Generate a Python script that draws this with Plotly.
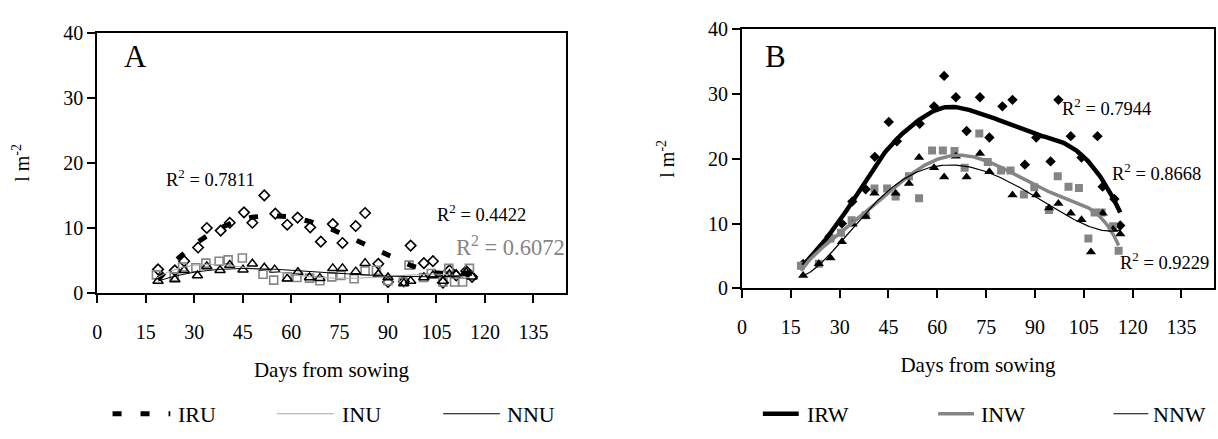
import numpy as np
import plotly.graph_objects as go

# ---------------- Panel A: unweeded treatments ----------------
iru_day = [18.8, 24.0, 26.9, 31.2, 33.9, 38.2, 41.0, 45.4, 48.0, 51.7, 55.1, 58.8, 62.0, 65.9, 69.2,
           72.9, 75.9, 80.0, 82.9, 87.0, 90.0, 94.9, 97.0, 101.1, 103.9, 107.0, 109.0, 111.1, 114.2, 116.0]
iru_val = [3.65, 3.5, 4.9, 7.0, 10.0, 9.6, 10.8, 12.4, 10.8, 15.0, 12.2, 10.5, 11.6, 10.1, 7.9,
           10.6, 7.7, 10.3, 12.3, 4.5, 1.7, 1.8, 7.3, 4.6, 4.9, 1.6, 3.5, 2.7, 3.4, 2.5]

inu_day = [18.3, 23.8, 26.4, 30.5, 33.6, 37.7, 40.5, 44.9, 51.3, 54.6, 58.8, 61.8, 65.7, 68.9, 72.6,
           75.4, 79.5, 82.9, 86.4, 90.0, 94.7, 96.5, 101.0, 103.4, 107.0, 108.8, 110.6, 113.1, 115.2]
inu_val = [2.8, 2.5, 4.0, 3.9, 4.6, 4.9, 5.1, 5.4, 2.9, 2.0, 2.5, 2.4, 2.3, 1.9, 2.5,
           2.7, 2.2, 3.4, 3.5, 1.9, 1.7, 4.3, 2.4, 3.0, 1.7, 3.8, 1.7, 1.7, 3.8]

nnu_day = [18.8, 24.0, 26.9, 31.0, 33.9, 38.0, 41.0, 45.1, 48.0, 51.7, 54.9, 58.8, 62.1, 65.7, 68.9,
           72.9, 75.9, 80.0, 82.9, 87.0, 90.0, 94.9, 97.0, 101.1, 103.9, 107.0, 109.0, 111.1, 114.2, 116.0]
nnu_val = [1.85, 2.1, 3.5, 2.7, 4.1, 3.5, 4.3, 3.6, 4.5, 3.9, 3.6, 2.2, 3.2, 2.4, 2.3,
           3.8, 3.8, 3.3, 4.6, 2.9, 2.4, 1.5, 1.85, 2.4, 2.7, 1.85, 2.9, 2.9, 3.2, 2.5]

# ---------------- Panel B: weeded treatments ----------------
irw_day = [18.8, 26.9, 30.7, 33.9, 38.0, 40.8, 45.1, 47.6, 54.6, 59.0, 62.1, 65.7, 69.0, 73.1,
           76.0, 80.0, 83.1, 86.9, 90.4, 94.8, 97.2, 101.0, 104.3, 109.2, 110.8, 114.4, 116.2]
irw_val = [3.76, 8.0, 10.0, 13.4, 15.3, 20.3, 25.7, 22.7, 25.4, 28.1, 32.8, 29.5, 24.3, 29.5,
           23.3, 28.1, 29.1, 19.1, 23.3, 19.6, 29.1, 23.5, 20.2, 23.5, 15.7, 13.8, 9.7]

inw_day = [18.1, 23.6, 27.2, 30.4, 33.7, 38.0, 40.7, 44.6, 47.2, 51.3, 54.4, 58.4, 61.7, 65.3, 68.4,
           72.9, 75.5, 79.6, 82.5, 86.6, 89.8, 94.3, 97.0, 100.3, 103.5, 106.4, 108.3, 110.5, 114.0, 115.7]
inw_val = [3.5, 3.8, 7.7, 8.6, 10.5, 11.3, 15.4, 15.4, 14.2, 17.3, 13.9, 21.3, 21.3, 21.2, 18.6,
           23.9, 19.5, 18.2, 18.2, 14.5, 15.6, 12.1, 17.3, 15.7, 15.5, 7.7, 11.7, 11.7, 9.6, 5.8]

nnw_day = [18.8, 23.6, 27.2, 30.7, 34.0, 38.0, 40.7, 47.2, 51.3, 54.4, 59.0, 62.1, 65.7, 69.0, 73.1,
           76.0, 83.1, 90.4, 94.3, 97.2, 101.0, 104.3, 107.2, 110.8, 114.0, 116.2]
nnw_val = [2.0, 3.8, 4.7, 7.2, 9.9, 11.1, 14.7, 14.7, 16.2, 20.2, 18.6, 17.2, 20.4, 17.2, 20.8,
           18.0, 14.4, 14.4, 12.4, 13.1, 11.6, 10.6, 5.6, 11.6, 9.1, 8.4]

r2_labels_a = ["0.7811", "0.4422", "0.6072"]
r2_labels_b = ["0.7944", "0.8668", "0.9229"]
legend_a = ["IRU", "INU", "NNU"]
legend_b = ["IRW", "INW", "NNW"]

SERIF = "Liberation Serif"
GREY = "#858585"
LIGHT = "#a8a8a8"
W, H = 1218, 439


def poly_trend(days, vals, degree):
    """Polynomial trendline evaluated on a fine grid spanning the observations."""
    x = np.asarray(days, float)
    y = np.asarray(vals, float)
    c = np.polyfit(x, y, degree)
    xs = np.linspace(x.min(), x.max(), 200)
    return xs, np.polyval(c, xs)


def smooth_trend(days, vals, bandwidth):
    """Gaussian-weighted local linear regression across the observed days."""
    x = np.asarray(days, float)
    y = np.asarray(vals, float)
    xs = np.linspace(x.min(), x.max(), 200)
    ys = []
    for x0 in xs:
        w = np.exp(-0.5 * ((x - x0) / bandwidth) ** 2)
        c = np.polyfit(x - x0, y, 1, w=np.sqrt(w))
        ys.append(c[-1])
    return xs, np.array(ys)


def px(x):
    return x / W


def py(y):
    return (H - y) / H


fig = go.Figure()

# ---- panel A markers ----
fig.add_trace(go.Scatter(x=iru_day, y=iru_val, mode="markers", xaxis="x", yaxis="y",
                         marker=dict(symbol="diamond-open", size=8, color="black", line=dict(width=1.6))))
fig.add_trace(go.Scatter(x=inu_day, y=inu_val, mode="markers", xaxis="x", yaxis="y",
                         marker=dict(symbol="square-open", size=8, color=GREY, line=dict(width=1.6))))
fig.add_trace(go.Scatter(x=nnu_day, y=nnu_val, mode="markers", xaxis="x", yaxis="y",
                         marker=dict(symbol="triangle-up-open", size=9, color="black", line=dict(width=1.5))))

# ---- panel A trendlines ----
IRU_LINE = dict(color="black", width=5, dash="9px,19px")
INU_LINE = dict(color=LIGHT, width=1)
NNU_LINE = dict(color="black", width=1)
xs, ys = poly_trend(iru_day, iru_val, 4)
fig.add_trace(go.Scatter(x=xs, y=ys, mode="lines", xaxis="x", yaxis="y", line=IRU_LINE))
xs, ys = poly_trend(inu_day, inu_val, 4)
fig.add_trace(go.Scatter(x=xs, y=ys, mode="lines", xaxis="x", yaxis="y", line=INU_LINE))
xs, ys = poly_trend(nnu_day, nnu_val, 4)
fig.add_trace(go.Scatter(x=xs, y=ys, mode="lines", xaxis="x", yaxis="y", line=NNU_LINE))

# ---- panel B markers ----
fig.add_trace(go.Scatter(x=irw_day, y=irw_val, mode="markers", xaxis="x2", yaxis="y2",
                         marker=dict(symbol="diamond", size=8, color="black")))
fig.add_trace(go.Scatter(x=inw_day, y=inw_val, mode="markers", xaxis="x2", yaxis="y2",
                         marker=dict(symbol="square", size=8, color=GREY)))
fig.add_trace(go.Scatter(x=nnw_day, y=nnw_val, mode="markers", xaxis="x2", yaxis="y2",
                         marker=dict(symbol="triangle-up", size=9, color="black")))

# ---- panel B trendlines ----
IRW_LINE = dict(color="black", width=4.5)
INW_LINE = dict(color=GREY, width=3.5)
NNW_LINE = dict(color="black", width=1.2)
xs, ys = smooth_trend(irw_day, irw_val, 8)
fig.add_trace(go.Scatter(x=xs, y=ys, mode="lines", xaxis="x2", yaxis="y2", line=IRW_LINE))
xs, ys = poly_trend(inw_day, inw_val, 6)
fig.add_trace(go.Scatter(x=xs, y=ys, mode="lines", xaxis="x2", yaxis="y2", line=INW_LINE))
xs, ys = poly_trend(nnw_day, nnw_val, 6)
fig.add_trace(go.Scatter(x=xs, y=ys, mode="lines", xaxis="x2", yaxis="y2", line=NNW_LINE))

axis_common = dict(
    showline=True, linecolor="black", linewidth=2, mirror=True,
    ticks="outside", ticklen=8, tickwidth=1.5, tickcolor="black",
    showgrid=False, zeroline=False,
    tickfont=dict(family=SERIF, size=20, color="black"),
)
xcommon = dict(axis_common, range=[0, 145], tick0=0, dtick=15, ticklabelstandoff=12,
               title=dict(text="Days from sowing", font=dict(family=SERIF, size=21, color="black"), standoff=20))
ycommon = dict(axis_common, range=[0, 40], tick0=0, dtick=10,
               title=dict(text="l m<sup>-2</sup>", font=dict(family=SERIF, size=20, color="black"), standoff=28))

fig.update_layout(
    width=W, height=H,
    margin=dict(l=0, r=0, t=0, b=0),
    paper_bgcolor="white", plot_bgcolor="white",
    showlegend=False,
    xaxis=dict(xcommon, domain=[px(92.7), px(563)], anchor="y"),
    yaxis=dict(ycommon, domain=[py(297), py(22.7)], anchor="x"),
    xaxis2=dict(xcommon, domain=[px(740), px(1214)], anchor="y2"),
    yaxis2=dict(ycommon, domain=[py(292), py(19.2)], anchor="x2"),
)

ann = []
shapes = []
# panel letters
ann.append(dict(text="A", x=7.5, y=36.3, xref="x", yref="y", showarrow=False, xanchor="left",
                font=dict(family=SERIF, size=31, color="black")))
ann.append(dict(text="B", x=6.5, y=35.8, xref="x2", yref="y2", showarrow=False, xanchor="left",
                font=dict(family=SERIF, size=31, color="black")))


def r2(label, x, y, xr, yr, size, color):
    ann.append(dict(text="R<sup>2</sup> = " + label, x=x, y=y, xref=xr, yref=yr, showarrow=False,
                    xanchor="left", yanchor="middle", font=dict(family=SERIF, size=size, color=color)))


r2(r2_labels_a[0], 20.7, 17.6, "x", "y", 18.5, "black")
r2(r2_labels_a[1], 104.4, 12.3, "x", "y", 18.5, "black")
r2(r2_labels_a[2], 110.4, 7.2, "x", "y", 22.5, GREY)
r2(r2_labels_b[0], 97.8, 28.0, "x2", "y2", 18.5, "black")
r2(r2_labels_b[1], 113.0, 18.0, "x2", "y2", 18.5, "black")
r2(r2_labels_b[2], 115.4, 4.3, "x2", "y2", 18.5, "black")

# legend rows drawn under each panel: line sample + label
legend_rows = [
    (legend_a[0], 108, 166, IRU_LINE, 172),
    (legend_a[1], 273, 330, INU_LINE, 336),
    (legend_a[2], 440, 497, NNU_LINE, 502),
    (legend_b[0], 761, 797, IRW_LINE, 803),
    (legend_b[1], 937, 973, INW_LINE, 978),
    (legend_b[2], 1113, 1148, NNW_LINE, 1151),
]
LEG_Y = 424
for name, x0, x1, style, tx in legend_rows:
    shapes.append(dict(type="line", xref="paper", yref="paper", x0=px(x0), x1=px(x1),
                       y0=py(LEG_Y), y1=py(LEG_Y), line=style))
    ann.append(dict(text=name, x=px(tx), y=py(LEG_Y + 1), xref="paper", yref="paper", showarrow=False,
                    xanchor="left", yanchor="middle", font=dict(family=SERIF, size=22, color="black")))

fig.update_layout(annotations=ann, shapes=shapes)

fig.write_html("out.html")
